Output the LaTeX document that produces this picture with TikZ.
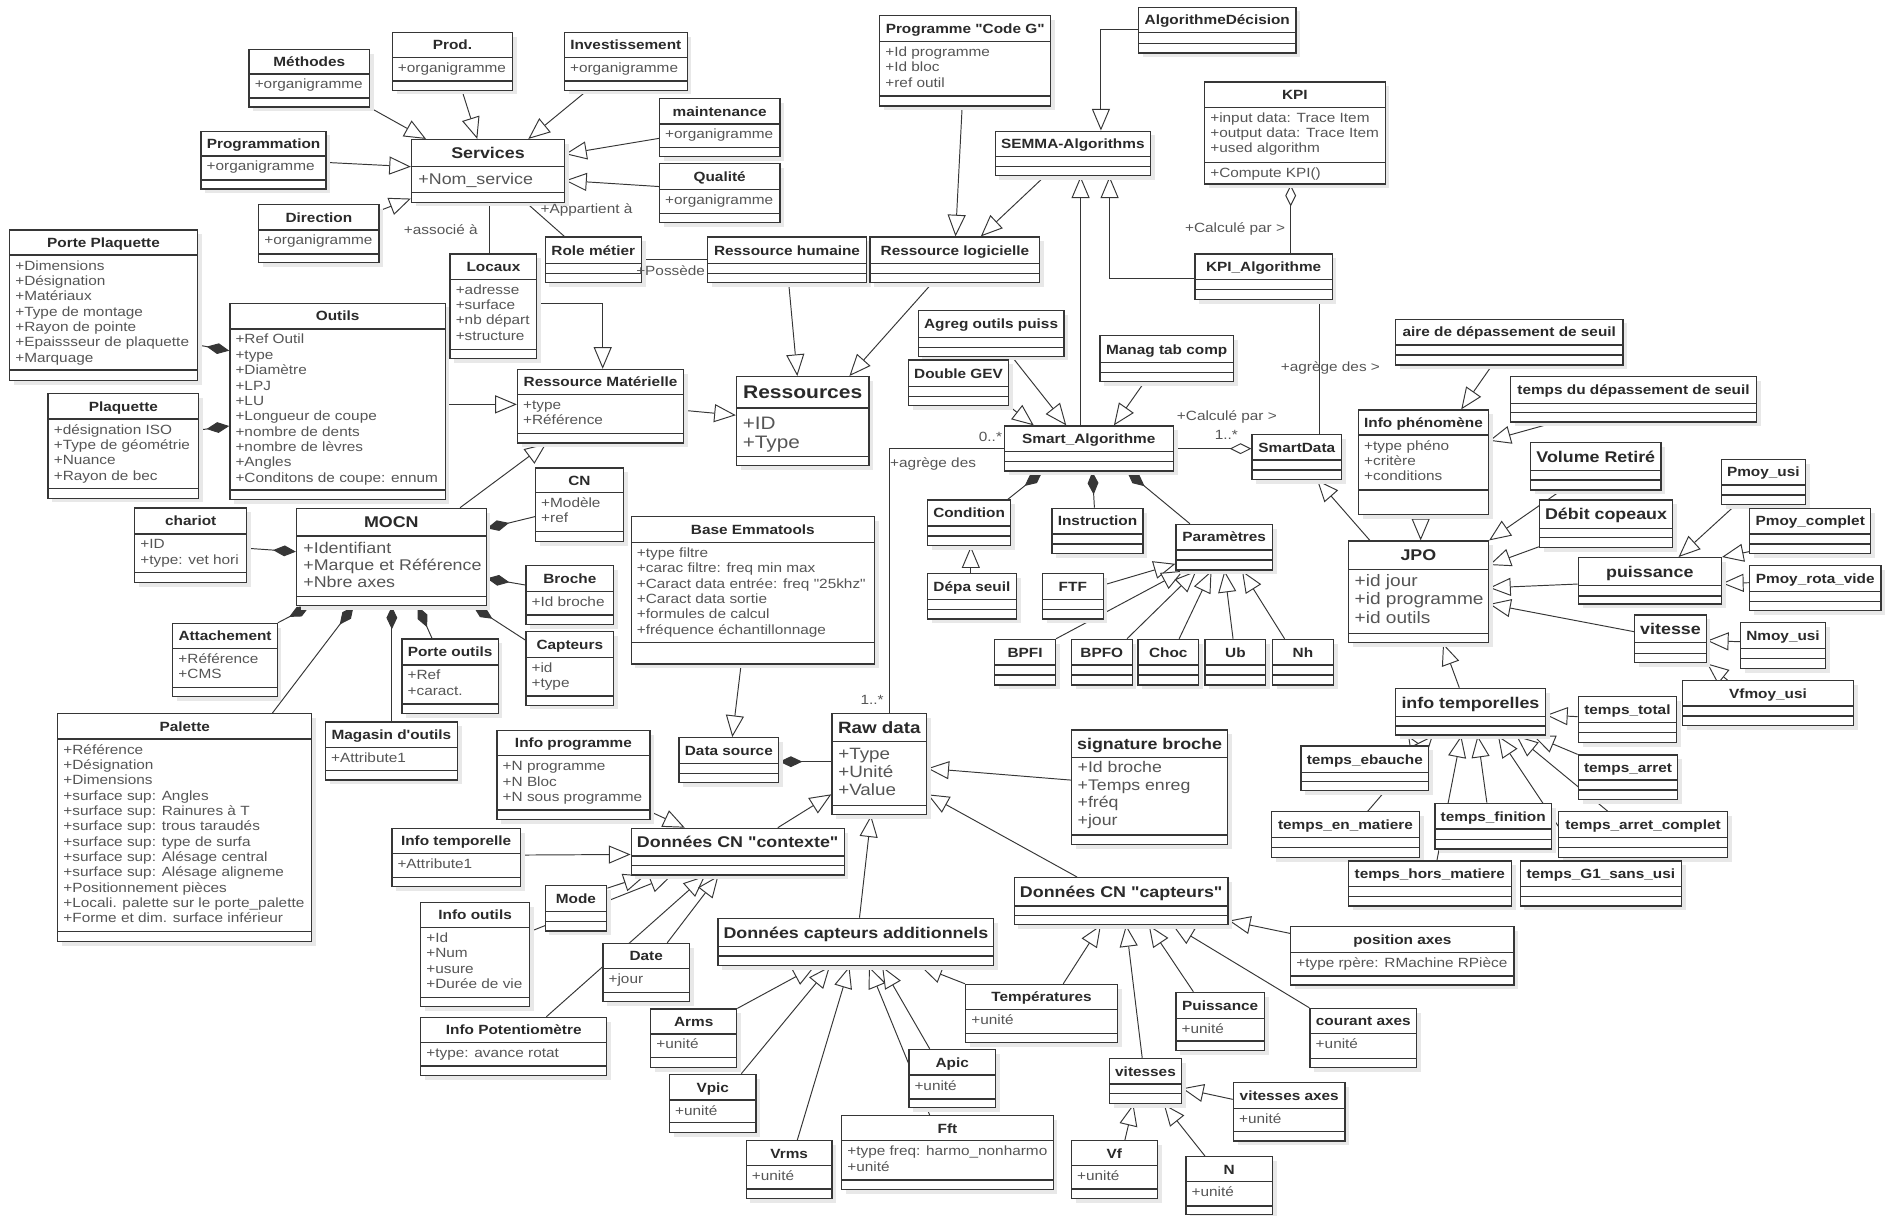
\documentclass[tikz,border=0pt]{standalone}
\usepackage{fontspec}
\setmainfont{Liberation Sans}[FakeStretch=1.15, Ligatures=TeXOff]
\usetikzlibrary{arrows.meta,shadows}
\pgfdeclarelayer{bg}
\pgfsetlayers{bg,main}
\definecolor{linec}{HTML}{363636}
\definecolor{attc}{HTML}{555555}
\definecolor{ttlc}{HTML}{2A2A2A}
\newcommand\smallf{\fontsize{11.1}{12.75}\selectfont}
\newcommand\bigf{\fontsize{12.9}{13.9}\selectfont}
\newcommand\attdx{4.5}
\newcommand\attdy{3.3}
\tikzset{
  clsbox/.style={draw=linec, line width=1.1pt, fill=white, inner sep=0pt,
    drop shadow={shadow xshift=3.5pt, shadow yshift=-3.5pt, fill=black!9, opacity=1}},
  clsline/.style={draw=linec, line width=1.1pt},
  ttl/.style={font=\smallf\bfseries, text=ttlc, inner sep=0pt, text height=8, text depth=0},
  att/.style={font=\smallf, text=attc, align=left, anchor=north west, inner sep=0pt},
  lbl/.style={font=\smallf, text=attc, inner sep=0pt},
  conn/.style={draw=linec, line width=0.8pt},
  gen/.style={conn, -{Triangle[fill=white, length=18pt, width=15pt]}},
  comp/.style={conn, {Diamond[length=19pt, width=9pt]}-},
  aggr/.style={conn, {Diamond[fill=white, length=18pt, width=9pt]}-}
}
% name, x1, y1, x2, y2, divider 1, divider 2, title, attributes
\newcommand\umlcls[9]{%
  \node[clsbox, minimum width={#4-#2}, minimum height={#5-#3}] (#1) at ({(#2+#4)/2},{(#3+#5)/2}) {};
  \draw[clsline] (#2,#6) -- (#4,#6) (#2,#7) -- (#4,#7);
  \node[ttl] (#1-t) at ({(#2+#4)/2},{(#3+#6)/2}) {#8};
  \node[att] (#1-a) at (#2+\attdx,#6+\attdy) {\strut#9};
}

\begin{document}
\begin{tikzpicture}[x=1pt, y=-1pt]
\useasboundingbox (0,0) rectangle (1568,1010);

% services
\umlcls{methodes}{207}{41}{307}{89}{61.5}{81.5}{Méthodes}{+organigramme}
\umlcls{prod}{326}{27}{426}{75}{47.6}{67.3}{Prod.}{+organigramme}
\umlcls{invest}{469}{27}{571}{75}{47.6}{67.3}{Investissement}{+organigramme}
\umlcls{maint}{548}{82}{648}{130}{103}{122.4}{maintenance}{+organigramme}
\umlcls{qualite}{548}{136}{648}{185}{157.3}{177.3}{Qualité}{+organigramme}
\umlcls{prog}{167}{109}{271}{157}{129.6}{149.6}{Programmation}{+organigramme}
\umlcls{direction}{215}{170}{315}{218}{191.1}{211}{Direction}{+organigramme}
\umlcls{porteplaq}{8}{191}{164}{316}{212}{307.5}{Porte Plaquette}{+Dimensions\\+Désignation\\+Matériaux\\+Type de montage\\+Rayon de pointe\\+Epaissseur de plaquette\\+Marquage}
\umlcls{locaux}{374}{211}{446}{298}{232.1}{290.3}{Locaux}{+adresse\\+surface\\+nb départ\\+structure}
\umlcls{role}{453}{197}{533}{235}{218.8}{227.1}{Role métier}{}
\umlcls{rhum}{588}{197}{720}{235}{218.8}{227.1}{Ressource humaine}{}
\umlcls{rlog}{723}{197}{864}{235}{218.8}{227.1}{Ressource logicielle}{}
\umlcls{codeg}{731}{13}{873}{88}{34.6}{79.8}{Programme "Code G"}{+Id programme\\+Id bloc\\+ref outil}
\umlcls{algodec}{946}{6}{1077}{44}{27.1}{36}{AlgorithmeDécision}{}
\umlcls{semma}{827}{109}{956}{146}{130.2}{138.5}{SEMMA-Algorithms}{}
\umlcls{kpi}{1001}{68}{1151}{153}{89.2}{134.9}{KPI}{+input data: Trace Item\\+output data: Trace Item\\+used algorithm}
\node[att] (kpi-o) at (1005.5,138.2) {\strut+Compute KPI()};
\umlcls{kpialgo}{993}{211}{1107}{249}{232.1}{240.4}{KPI\_Algorithme}{}
\umlcls{agreg}{763}{258}{884}{296}{280.6}{288.9}{Agreg outils puiss}{}
\umlcls{doublegev}{755}{299}{838}{337}{321.3}{329.6}{Double GEV}{}
\umlcls{manag}{914}{279}{1025}{317}{301.4}{309.4}{Manag tab comp}{}
\umlcls{rmat}{430}{307}{568}{368}{327.7}{360}{Ressource Matérielle}{+type\\+Référence}
\umlcls{outils}{191}{252}{370}{415}{273.4}{407.2}{Outils}{+Ref Outil\\+type\\+Diamètre\\+LPJ\\+LU\\+Longueur de coupe\\+nombre de dents\\+nombre de lèvres\\+Angles\\+Conditons de coupe: ennum}
\umlcls{plaq}{40}{327}{165}{414}{348.2}{405.8}{Plaquette}{+désignation ISO\\+Type de géométrie\\+Nuance\\+Rayon de bec}

% machine
\umlcls{chariot}{112}{422}{205}{484}{443.7}{475.9}{chariot}{+ID\\+type: vet hori}
\umlcls{cn}{445}{389}{518}{450}{409.4}{441.8}{CN}{+Modèle\\+ref}
\umlcls{broche}{437}{470}{510}{519}{491.7}{511}{Broche}{+Id broche}
\umlcls{capteurs}{437}{525}{510}{586}{546.2}{578.4}{Capteurs}{+id\\+type}
\umlcls{attach}{143.6}{518}{230.4}{579}{538.8}{571.2}{Attachement}{+Référence\\+CMS}
\umlcls{porteout}{334}{531}{414}{593}{552.6}{585}{Porte outils}{+Ref\\+caract.}
\umlcls{magasin}{270.5}{600}{380}{648}{621.3}{640.5}{Magasin d'outils}{+Attribute1}
\umlcls{palette}{48}{593}{259}{782.5}{614.1}{774.2}{Palette}{+Référence\\+Désignation\\+Dimensions\\+surface sup: Angles\\+surface sup: Rainures à T\\+surface sup: trous taraudés\\+surface sup: type de surfa\\+surface sup: Alésage central\\+surface sup: Alésage aligneme\\+Positionnement pièces\\+Locali. palette sur le porte\_palette\\+Forme et dim. surface inférieur}

% contexte
\umlcls{infoprog}{413}{607}{540}{681}{628}{673}{Info programme}{+N programme\\+N Bloc\\+N sous programme}
\umlcls{infotemp}{325.6}{688.3}{432.4}{736.8}{709.1}{729}{Info temporelle}{+Attribute1}
\umlcls{mode}{453}{736}{504.2}{773.6}{757.6}{765.9}{Mode}{}
\umlcls{infoout}{349.6}{749.8}{440}{836.5}{770.6}{828.8}{Info outils}{+Id\\+Num\\+usure\\+Durée de vie}
\umlcls{infopot}{349.6}{845.4}{504.2}{893.8}{866.4}{885.8}{Info Potentiomètre}{+type: avance rotat}
\umlcls{date}{501}{784}{573}{832.4}{804.6}{824.6}{Date}{+jour}

% capteurs
\umlcls{arms}{540.7}{838.5}{612.1}{886.9}{859.2}{878.6}{Arms}{+unité}
\umlcls{vpic}{556.3}{892.7}{628.3}{941.2}{914.1}{932.9}{Vpic}{+unité}
\umlcls{vrms}{620.1}{947.9}{691.4}{995.8}{968.7}{988}{Vrms}{+unité}
\umlcls{apic}{755.2}{872}{827.2}{920.5}{893.3}{913.2}{Apic}{+unité}
\umlcls{fft}{699.4}{927.1}{875.2}{988.3}{947.9}{980.6}{Fft}{+type freq: harmo\_nonharmo\\+unité}
\umlcls{temper}{802.4}{818}{928.5}{866.1}{838.7}{858.7}{Températures}{+unité}
\umlcls{puissn}{977.2}{824.6}{1050.7}{873.1}{846.2}{865}{Puissance}{+unité}
\umlcls{vitesses}{922.1}{879.5}{981.6}{916.9}{900.8}{908.6}{vitesses}{}
\umlcls{vf}{890.3}{947.9}{961.7}{995.8}{968.7}{988}{Vf}{+unité}
\umlcls{n}{985.5}{961.2}{1057.3}{1009.4}{982}{1002}{N}{+unité}
\umlcls{vitax}{1024.9}{899.7}{1117.7}{948.2}{921}{940.4}{vitesses axes}{+unité}
\umlcls{posax}{1072.5}{770}{1258.1}{818.5}{791.4}{811}{position axes}{+type rpère: RMachine RPièce}
\umlcls{courant}{1088.6}{838}{1177.1}{887}{858.7}{879.4}{courant axes}{+unité}

% temps
\umlcls{tebauche}{1081}{620}{1187.2}{657.1}{641.8}{649.5}{temps\_ebauche}{}
\umlcls{tenmat}{1056.6}{674.5}{1179.5}{712.4}{696.1}{704.4}{temps\_en\_matiere}{}
\umlcls{tfini}{1192.3}{667.5}{1289.2}{705.5}{688.9}{697.5}{temps\_finition}{}
\umlcls{tarretc}{1295.2}{674.5}{1435.3}{712.4}{696.1}{704.4}{temps\_arret\_complet}{}
\umlcls{thors}{1120.4}{715.5}{1255.8}{752.9}{736.8}{745.1}{temps\_hors\_matiere}{}
\umlcls{tg1}{1263.2}{715.5}{1397.2}{752.9}{736.8}{745.1}{temps\_G1\_sans\_usi}{}
\umlcls{tarret}{1311.5}{627.4}{1394.1}{664.2}{648.2}{656.5}{temps\_arret}{}
\umlcls{ttotal}{1311.5}{578.9}{1393.1}{616.9}{600.5}{608.8}{temps\_total}{}

% smart data
\umlcls{infophen}{1128.9}{340.7}{1236.8}{427.4}{361.5}{407.2}{Info phénomène}{+type phéno\\+critère\\+conditions}
\umlcls{smartdata}{1040.4}{360.9}{1114.7}{398.3}{382.3}{390.6}{SmartData}{}
\umlcls{pmoyusi}{1430.3}{381.7}{1500.2}{419.1}{403}{411.3}{Pmoy\_usi}{}
\umlcls{pmoycomp}{1453.9}{422.4}{1554.5}{459.8}{443.7}{452}{Pmoy\_complet}{}
\umlcls{pmoyrota}{1453.9}{470.1}{1562.9}{507.5}{491.7}{500}{Pmoy\_rota\_vide}{}
\umlcls{nmoy}{1446.2}{517.4}{1517}{555.4}{538.8}{547.1}{Nmoy\_usi}{}
\umlcls{vfmoy}{1398.2}{565.6}{1540}{603}{586.7}{595}{Vfmoy\_usi}{}
\umlcls{aire}{1159.6}{265.3}{1348.6}{303.3}{286.7}{295}{aire de dépassement de seuil}{}
\umlcls{tdep}{1255.1}{313}{1459.6}{350.7}{335.2}{342.9}{temps du dépassement de seuil}{}

% algorithmes
\umlcls{smartalgo}{834.5}{354}{975}{391.4}{375.3}{383.6}{Smart\_Algorithme}{}
\umlcls{condition}{770.6}{415.5}{839.9}{453.4}{437.1}{445.4}{Condition}{}
\umlcls{instr}{874.1}{422.4}{949.8}{459.8}{443.7}{452}{Instruction}{}
\umlcls{param}{977.2}{435.7}{1057.2}{473.7}{457}{465.4}{Paramètres}{}
\umlcls{depa}{770.6}{476.4}{844.6}{514.4}{498}{506.3}{Dépa seuil}{}
\umlcls{ftf}{866.2}{476.4}{916.7}{514.4}{498}{506.3}{FTF}{}
\umlcls{bpfi}{826.6}{531.3}{877}{569.2}{552.6}{560.9}{BPFI}{}
\umlcls{bpfo}{890.3}{531.3}{940.8}{569.2}{552.6}{560.9}{BPFO}{}
\umlcls{choc}{945.5}{531.3}{996}{569.2}{552.6}{560.9}{Choc}{}
\umlcls{ub}{1001.3}{531.3}{1051.8}{569.2}{552.6}{560.9}{Ub}{}
\umlcls{nh}{1057.3}{531.3}{1108}{569.2}{552.6}{560.9}{Nh}{}
\umlcls{baseemma}{524.5}{429.3}{726.7}{551.8}{450.7}{534.1}{Base Emmatools}{+type filtre\\+carac filtre: freq min max\\+Caract data entrée: freq "25khz"\\+Caract data sortie\\+formules de calcul\\+fréquence échantillonnage}
\umlcls{datasrc}{564.2}{613}{647.1}{650.4}{634.3}{642.6}{Data source}{}

% big classes
\begin{scope}[ttl/.append style={font=\bigf\bfseries, text height=9.2}, att/.append style={font=\bigf}]
\def\attdx{5.5}\def\attdy{4.8}
\umlcls{services}{342}{116}{469}{168}{138.5}{159.8}{Services}{+Nom\_service}
\umlcls{mocn}{246.4}{422.4}{404}{503.3}{445.4}{495.8}{MOCN}{+Identifiant\\+Marque et Référence\\+Nbre axes}
\umlcls{dcctx}{524.5}{688.3}{701.5}{727.1}{711.3}{719.4}{Données CN "contexte"}{}
\umlcls{dcadd}{596.7}{763.1}{825.8}{802.5}{786.7}{794.4}{Données capteurs additionnels}{}
\umlcls{dccapt}{842.8}{729.3}{1020.5}{768.1}{752.9}{760.6}{Données CN "capteurs"}{}
\umlcls{volret}{1271.7}{367.8}{1380.3}{407.2}{391.1}{398.9}{Volume Retiré}{}
\umlcls{debit}{1279.4}{415.5}{1389.7}{454.8}{439}{446.5}{Débit copeaux}{}
\umlcls{puiss}{1311.5}{463.4}{1430.3}{501.9}{486.7}{495.3}{puissance}{}
\umlcls{vitesse}{1358.4}{511}{1417.8}{550.7}{534.1}{542.9}{vitesse}{}
\umlcls{infotempo}{1159.6}{572}{1284.1}{610.8}{595.5}{603.3}{info temporelles}{}
\end{scope}
\begin{scope}[ttl/.append style={font=\fontsize{15.2}{17}\selectfont\bfseries, text height=10.9}, att/.append style={font=\fontsize{15}{16}\selectfont}]
\def\attdx{5}\def\attdy{6.5}
\umlcls{ressources}{612}{313}{722}{387}{339}{379.5}{Ressources}{+ID\\+Type}
\end{scope}
\begin{scope}[ttl/.append style={font=\bigf\bfseries, text height=9.2}, att/.append style={font=\fontsize{13.8}{15.5}\selectfont}]
\def\attdx{5}\def\attdy{3}
\umlcls{jpo}{1120.4}{449.6}{1236.8}{534.1}{473.1}{526.3}{JPO}{+id jour\\+id programme\\+id outils}
\end{scope}
\begin{scope}[ttl/.append style={font=\fontsize{13.6}{15}\selectfont\bfseries, text height=9.7}, att/.append style={font=\fontsize{13.6}{15.2}\selectfont}]
\def\attdx{5}\def\attdy{3.6}
\umlcls{rawdata}{691.4}{592.8}{770}{677}{616.3}{669.5}{Raw data}{+Type\\+Unité\\+Value}
\end{scope}
\begin{scope}[ttl/.append style={font=\bigf\bfseries, text height=9.2}, att/.append style={font=\fontsize{12.8}{14.7}\selectfont}]
\def\attdx{5}\def\attdy{1.8}
\umlcls{sigbroche}{890.3}{606.6}{1020.1}{701.6}{629.6}{693.9}{signature broche}{+Id broche\\+Temps enreg\\+fréq\\+jour}
\end{scope}

\begin{pgfonlayer}{bg}
\draw[gen] (methodes.south east) -- (services.north -| 354,0);
\draw[gen] (prod.south -| 384,0) -- (services.north -| 396.6,0);
\draw[gen] (invest.south -| 487.5,0) -- (services.north -| 439,0);
\draw[gen] (maint.west |- 0,115) -- (services.east |- 0,128);
\draw[gen] (qualite.west |- 0,155) -- (services.east |- 0,150);
\draw[gen] (prog.east |- 0,135) -- (services.west |- 0,138.5);
\draw[gen] (direction.east |- 0,175) -- (services.west |- 0,165);
\draw[conn] (services.south -| 406.7,0) -- (locaux.north -| 406.7,0);
\draw[conn] (services.south -| 437.4,0) -- (role.north -| 469,0);
\draw[conn] (role.east |- 0,216) -- (rhum.west |- 0,216);
\draw[gen] (locaux.east |- 0,252) -| (rmat.north -| 500.8,0);
\draw[gen] (outils.east |- 0,336) -- (rmat.west |- 0,336);
\draw[gen] (rmat.east |- 0,341) -- (ressources.west |- 0,345);
\draw[gen] (rhum.south -| 655.4,0) -- (ressources.north -| 662.5,0);
\draw[gen] (rlog.south -| 774.3,0) -- (ressources.north -| 705.8,0);
\draw[gen] (codeg.south -| 799.5,0) -- (rlog.north -| 794,0);
\draw[gen] (semma.south -| 868,0) -- (rlog.north -| 815,0);
\draw[gen] (algodec.west |- 0,24.9) -| (semma.north -| 914.8,0);
\draw[gen] (kpialgo.west |- 0,231.3) -| (semma.south -| 922,0);
\draw[gen] (smartalgo.north -| 897.9,0) -- (semma.south -| 897.9,0);
\draw[gen] (agreg.south -| 841,0) -- (smartalgo.north -| 886,0);
\draw[gen] (doublegev.south east) -- (smartalgo.north -| 859,0);
\draw[gen] (manag.south -| 950.9,0) -- (smartalgo.north -| 925.6,0);
\draw[aggr] (kpi.south -| 1072.5,0) -- (kpialgo.north -| 1072.5,0);
\draw[conn] (kpialgo.south -| 1096.8,0) -- (smartdata.north -| 1096.8,0);
\draw[aggr] (smartdata.west |- 0,372.8) -- (smartalgo.east |- 0,372.8);
\draw[conn] (smartalgo.west |- 0,372.8) -| (rawdata.north -| 739.3,0);
\draw[comp] (smartalgo.south -| 866.2,0) -- (condition.north -| 837.4,0);
\draw[comp] (smartalgo.south -| 907.7,0) -- (instr.north -| 909.4,0);
\draw[comp] (smartalgo.south -| 936.5,0) -- (param.north -| 988.7,0);
\draw[gen] (depa.north -| 806.7,0) -- (condition.south -| 806.7,0);
\draw[gen] (ftf.east |- 0,486) -- (param.west |- 0,468.5);
\draw[gen] (bpfi.north east) -- (param.south -| 983.3,0);
\draw[gen] (bpfo.north -| 936.5,0) -- (param.south -| 994.2,0);
\draw[gen] (choc.north -| 979.8,0) -- (param.south -| 1006.7,0);
\draw[gen] (ub.north -| 1024.6,0) -- (param.south -| 1017.5,0);
\draw[gen] (nh.north -| 1067.4,0) -- (param.south -| 1032,0);
\draw[comp] (outils.west |- 0,291.4) -- (porteplaq.east |- 0,286.7);
\draw[comp] (outils.west |- 0,354) -- (plaq.east |- 0,357.3);
\draw[gen] (mocn.north -| 382.3,0) -- (rmat.south -| 454,0);
\draw[comp] (mocn.east |- 0,439) -- (cn.west |- 0,429.3);
\draw[comp] (mocn.west |- 0,458.4) -- (chariot.east |- 0,455.6);
\draw[comp] (mocn.east |- 0,480.6) -- (broche.west |- 0,486.1);
\draw[comp] (mocn.south -| 393.3,0) -- (capteurs.west |- 0,531.8);
\draw[comp] (mocn.south -| 257.1,0) -- (attach.north east);
\draw[comp] (mocn.south -| 293.8,0) -- (palette.north -| 226.4,0);
\draw[comp] (mocn.south -| 325.6,0) -- (magasin.north -| 325.6,0);
\draw[comp] (mocn.south -| 347.2,0) -- (porteout.north -| 359,0);
\draw[gen] (baseemma.south -| 615.8,0) -- (datasrc.north -| 608.5,0);
\draw[comp] (datasrc.east |- 0,632.9) -- (rawdata.west |- 0,632.9);
\draw[gen] (sigbroche.west |- 0,648.2) -- (rawdata.east |- 0,638.5);
\draw[gen] (dccapt.north -| 895,0) -- (rawdata.east |- 0,660);
\draw[gen] (dcadd.north -| 714.2,0) -- (rawdata.south -| 723.8,0);
\draw[gen] (dcctx.north -| 646.3,0) -- (rawdata.west |- 0,660);
\draw[gen] (infoprog.east |- 0,674.5) -- (dcctx.north -| 569,0);
\draw[gen] (infotemp.east |- 0,710.5) -- (dcctx.west |- 0,710);
\draw[gen] (mode.east |- 0,738) -- (dcctx.south -| 536,0);
\draw[gen] (infoout.east |- 0,774) -- (dcctx.south -| 558,0);
\draw[gen] (infopot.north -| 454,0) -- (dcctx.south -| 586,0);
\draw[gen] (date.north -| 554.4,0) -- (dcctx.south -| 597,0);
\draw[gen] (arms.north east) -- (dcadd.south -| 677,0);
\draw[gen] (vpic.north -| 616,0) -- (dcadd.south -| 689.6,0);
\draw[gen] (vrms.north -| 662.5,0) -- (dcadd.south -| 705.8,0);
\draw[gen] (fft.north -| 772.5,0) -- (dcadd.south -| 722,0);
\draw[gen] (apic.north -| 772.5,0) -- (dcadd.south -| 733,0);
\draw[gen] (temper.north west) -- (dcadd.south -| 765,0);
\draw[gen] (temper.north -| 883.5,0) -- (dccapt.south -| 914.8,0);
\draw[gen] (vitesses.north -| 949.1,0) -- (dccapt.south -| 935.7,0);
\draw[gen] (puissn.north -| 991.6,0) -- (dccapt.south -| 954.5,0);
\draw[gen] (courant.north west) -- (dccapt.south -| 974.3,0);
\draw[gen] (posax.west |- 0,775.6) -- (dccapt.east |- 0,765);
\draw[gen] (vf.north -| 934.7,0) -- (vitesses.south -| 941.8,0);
\draw[gen] (n.north -| 1001.3,0) -- (vitesses.south -| 967,0);
\draw[gen] (vitax.west |- 0,913.5) -- (vitesses.east |- 0,904.4);
\draw[gen] (jpo.north -| 1138.3,0) -- (smartdata.south -| 1094.4,0);
\draw[gen] (infophen.south -| 1180.5,0) -- (jpo.north -| 1180.5,0);
\draw[gen] (aire.south -| 1239.6,0) -- (infophen.north -| 1214.2,0);
\draw[gen] (tdep.south -| 1291.2,0) -- (infophen.east |- 0,366.2);
\draw[gen] (volret.south -| 1296.9,0) -- (jpo.north east);
\draw[gen] (debit.west |- 0,454.3) -- (jpo.east |- 0,469.5);
\draw[gen] (puiss.west |- 0,485.3) -- (jpo.east |- 0,488.4);
\draw[gen] (vitesse.west |- 0,524.9) -- (jpo.east |- 0,501.9);
\draw[gen] (infotempo.north -| 1212.6,0) -- (jpo.south -| 1199.1,0);
\draw[gen] (pmoyusi.south -| 1442.1,0) -- (puiss.north -| 1394.8,0);
\draw[gen] (pmoycomp.west |- 0,458.4) -- (puiss.north east);
\draw[gen] (pmoyrota.west |- 0,484.2) -- (puiss.east |- 0,484.7);
\draw[gen] (nmoy.west |- 0,533.2) -- (vitesse.east |- 0,532.4);
\draw[gen] (vfmoy.north -| 1435.4,0) -- (vitesse.south east);
\draw[gen] (ttotal.west |- 0,595.5) -- (infotempo.east |- 0,594.2);
\draw[gen] (tarret.north west) -- (infotempo.south -| 1274,0);
\draw[gen] (tebauche.north -| 1175,0) -- (infotempo.south -| 1170,0);
\draw[gen] (tenmat.north -| 1136.6,0) -- (infotempo.south -| 1190.6,0);
\draw[gen] (thors.north -| 1194,0) -- (infotempo.south -| 1214.2,0);
\draw[gen] (tfini.north -| 1235.5,0) -- (infotempo.south -| 1227.8,0);
\draw[gen] (tg1.north -| 1313.8,0) -- (infotempo.south -| 1244.7,0);
\draw[gen] (tarretc.north -| 1335.8,0) -- (infotempo.south -| 1259.9,0);
\end{pgfonlayer}

\node[lbl] (l-associe) at (366.3,191) {+associé à};
\node[lbl, anchor=west] (l-appartient) at (449,174.5) {+Appartient à};
\node[lbl, anchor=west] (l-possede) at (528.5,224.5) {+Possède};
\node[lbl, anchor=east] (l-calcule1) at (1068,190) {+Calculé par >};
\node[lbl] (l-agrege1) at (1105.5,305.5) {+agrège des >};
\node[lbl] (l-calcule2) at (1019.5,346.8) {+Calculé par >};
\node[lbl] (l-mult1) at (1019,361.5) {1..*};
\node[lbl] (l-mult2) at (823,363) {0..*};
\node[lbl, anchor=west] (l-agrege2) at (739.5,385.6) {+agrège des};
\node[lbl] (l-mult3) at (724.7,581.7) {1..*};
\end{tikzpicture}
\end{document}
